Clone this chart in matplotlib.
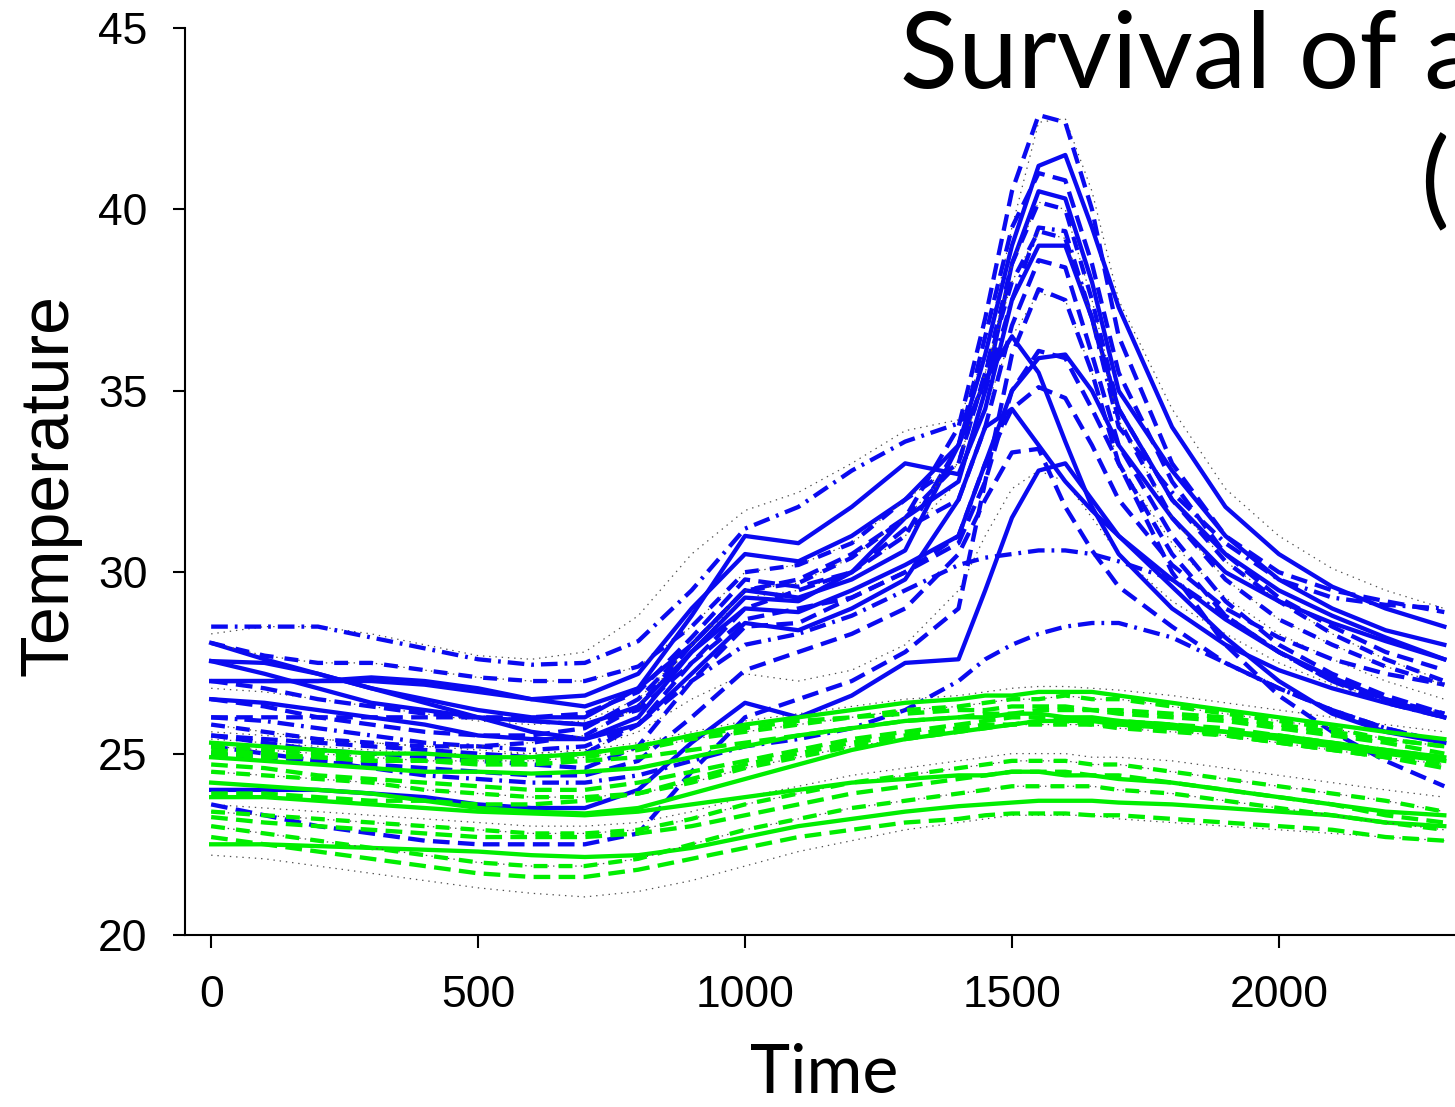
import matplotlib
matplotlib.use("Agg")
import matplotlib.pyplot as plt

plt.rcParams['lines.scale_dashes'] = False

# time grid shared by all curves
time = [0, 100, 200, 300, 400, 500, 600, 700, 800, 900, 1000, 1100, 1200, 1300, 1400,
        1450, 1500, 1550, 1600, 1650, 1700, 1800, 1900, 2000, 2100, 2200, 2310]

# blue curves
blue_01 = [26.5, 26.3, 26.0, 25.8, 25.6, 25.5, 25.5, 25.7, 26.5, 28.0, 29.5, 29.8, 30.5, 31.5, 34.0, 37.0, 40.5, 42.6, 42.4, 40.0, 36.5, 33.0, 31.0, 30.0, 29.5, 29.2, 28.9]
blue_02 = [27.0, 27.0, 27.0, 27.0, 26.9, 26.7, 26.5, 26.6, 27.2, 29.0, 30.5, 30.3, 31.0, 32.0, 33.5, 36.0, 39.0, 41.2, 41.5, 39.5, 37.3, 34.0, 31.8, 30.5, 29.6, 29.0, 28.5]
blue_03 = [25.5, 25.4, 25.3, 25.2, 25.1, 25.0, 24.9, 25.0, 25.8, 27.5, 29.0, 29.5, 30.0, 31.0, 33.5, 36.5, 39.5, 41.0, 40.8, 38.5, 35.5, 32.5, 30.5, 29.3, 28.5, 27.8, 27.3]
blue_04 = [28.05, 27.6, 27.2, 26.8, 26.4, 26.0, 25.6, 25.4, 26.0, 27.8, 29.3, 29.2, 30.0, 31.5, 32.5, 35.0, 38.5, 40.5, 40.3, 38.0, 35.0, 32.8, 31.0, 29.8, 29.0, 28.4, 28.0]
blue_05 = [28.05, 27.7, 27.5, 27.5, 27.3, 27.1, 27.0, 27.0, 27.4, 28.5, 30.0, 30.2, 30.8, 32.0, 33.0, 35.5, 38.5, 40.2, 40.0, 37.5, 34.5, 32.0, 30.3, 29.2, 28.3, 27.6, 27.0]
blue_06 = [28.5, 28.5, 28.5, 28.2, 27.9, 27.6, 27.45, 27.5, 28.1, 29.5, 31.2, 31.8, 32.8, 33.6, 34.1, 35.0, 37.5, 39.5, 39.4, 37.0, 34.0, 32.2, 30.8, 29.8, 29.3, 29.1, 29.0]
blue_07 = [27.55, 27.5, 27.2, 26.8, 26.5, 26.2, 26.0, 26.0, 26.8, 28.8, 31.0, 30.8, 31.8, 33.0, 32.7, 34.5, 37.5, 39.0, 39.0, 37.0, 34.5, 32.0, 30.5, 29.5, 28.8, 28.2, 27.6]
blue_08 = [26.0, 26.0, 26.0, 26.0, 26.0, 26.0, 26.0, 26.1, 26.7, 28.2, 29.8, 29.6, 30.0, 31.2, 32.0, 34.0, 36.8, 38.6, 38.4, 36.0, 33.5, 31.0, 29.2, 28.0, 27.2, 26.6, 26.1]
blue_09 = [27.0, 27.0, 27.0, 27.1, 27.0, 26.8, 26.5, 26.3, 26.8, 28.0, 29.5, 29.3, 29.8, 30.6, 33.5, 35.3, 36.5, 35.5, 33.6, 31.8, 30.5, 29.0, 28.0, 27.3, 26.8, 26.4, 26.0]
blue_10 = [25.5, 25.3, 25.1, 25.0, 24.9, 24.8, 24.7, 24.6, 25.2, 27.0, 28.5, 28.6, 29.3, 30.0, 30.8, 32.5, 35.0, 36.1, 35.9, 34.5, 33.0, 30.5, 28.8, 27.8, 27.0, 26.5, 26.1]
blue_11 = [27.55, 27.2, 26.8, 26.4, 26.2, 26.0, 25.9, 25.8, 26.3, 27.8, 29.0, 28.9, 29.5, 30.2, 31.0, 33.0, 35.0, 35.9, 36.0, 35.0, 33.5, 31.5, 30.0, 29.2, 28.6, 28.1, 27.6]
blue_12 = [27.0, 26.8, 26.5, 26.3, 26.1, 26.0, 25.9, 25.8, 26.2, 27.5, 28.7, 29.0, 29.3, 30.0, 31.0, 33.0, 34.5, 35.1, 34.8, 33.5, 32.0, 30.2, 29.0, 28.2, 27.6, 27.2, 26.9]
blue_13 = [26.5, 26.4, 26.2, 26.0, 25.8, 25.5, 25.4, 25.4, 25.8, 27.2, 28.6, 28.4, 29.0, 29.8, 32.0, 34.0, 34.5, 33.5, 32.5, 31.7, 31.0, 29.8, 28.7, 27.8, 27.1, 26.5, 26.0]
blue_14 = [24.0, 24.0, 24.0, 23.9, 23.8, 23.6, 23.5, 23.5, 24.0, 25.3, 26.4, 26.0, 26.6, 27.5, 27.6, 29.5, 31.5, 32.8, 33.0, 32.0, 31.0, 29.6, 28.2, 27.0, 26.1, 25.6, 25.3]
blue_15 = [23.6, 23.3, 23.0, 22.8, 22.6, 22.5, 22.5, 22.5, 22.8, 24.5, 26.0, 26.5, 27.0, 27.8, 29.0, 32.5, 36.0, 37.8, 37.5, 35.5, 33.0, 30.0, 28.0, 26.6, 25.6, 24.8, 24.1]
blue_16 = [26.0, 25.9, 25.7, 25.5, 25.3, 25.2, 25.1, 25.2, 25.8, 27.0, 28.0, 28.3, 28.8, 29.5, 30.2, 30.4, 30.5, 30.6, 30.6, 30.5, 30.3, 29.8, 28.8, 27.8, 27.0, 26.4, 26.0]
blue_17 = [25.2, 25.0, 24.8, 24.6, 24.4, 24.3, 24.2, 24.2, 24.4, 24.8, 25.2, 25.4, 25.7, 26.2, 27.0, 27.6, 28.0, 28.3, 28.5, 28.6, 28.6, 28.2, 27.5, 26.8, 26.2, 25.7, 25.3]
blue_18 = [25.0, 24.9, 24.8, 24.7, 24.6, 24.5, 24.4, 24.4, 24.8, 26.0, 27.3, 27.8, 28.3, 29.0, 30.5, 32.0, 33.3, 33.4, 31.8, 30.6, 29.6, 28.5, 27.5, 26.8, 26.2, 25.7, 25.3]
blue_19 = [25.8, 25.6, 25.4, 25.3, 25.2, 25.2, 25.3, 25.5, 26.3, 28.0, 29.5, 29.7, 30.4, 31.5, 33.0, 35.5, 38.0, 39.4, 39.2, 37.0, 34.2, 31.5, 29.8, 28.7, 28.0, 27.4, 26.9]

# green curves
green_01 = [25.3, 25.2, 25.1, 25.0, 25.0, 24.9, 24.9, 25.0, 25.2, 25.5, 25.8, 26.0, 26.2, 26.4, 26.5, 26.6, 26.6, 26.7, 26.7, 26.7, 26.6, 26.4, 26.2, 26.0, 25.8, 25.6, 25.4]
green_02 = [25.2, 25.1, 25.0, 24.9, 24.8, 24.8, 24.8, 24.9, 25.1, 25.4, 25.6, 25.8, 26.0, 26.2, 26.3, 26.4, 26.5, 26.5, 26.6, 26.5, 26.5, 26.3, 26.1, 25.9, 25.7, 25.4, 25.2]
green_03 = [25.0, 24.9, 24.9, 24.8, 24.8, 24.7, 24.7, 24.8, 24.9, 25.1, 25.3, 25.5, 25.7, 25.9, 26.0, 26.1, 26.1, 26.2, 26.2, 26.2, 26.1, 26.0, 25.9, 25.7, 25.5, 25.3, 25.0]
green_04 = [24.9, 24.8, 24.7, 24.6, 24.5, 24.5, 24.45, 24.5, 24.6, 24.9, 25.2, 25.5, 25.7, 25.9, 26.0, 26.0, 26.1, 26.1, 26.0, 26.0, 25.9, 25.8, 25.6, 25.4, 25.2, 25.0, 24.8]
green_05 = [24.7, 24.6, 24.4, 24.3, 24.2, 24.1, 24.0, 24.0, 24.2, 24.5, 24.8, 25.1, 25.4, 25.6, 25.8, 25.9, 26.0, 26.0, 26.0, 25.9, 25.9, 25.8, 25.7, 25.5, 25.3, 25.1, 24.9]
green_06 = [24.5, 24.4, 24.3, 24.2, 24.0, 23.9, 23.8, 23.8, 23.9, 24.2, 24.6, 24.9, 25.2, 25.4, 25.6, 25.7, 25.8, 25.8, 25.8, 25.8, 25.7, 25.6, 25.5, 25.3, 25.1, 24.9, 24.7]
green_07 = [24.2, 24.1, 24.0, 23.9, 23.7, 23.5, 23.4, 23.35, 23.5, 23.9, 24.3, 24.7, 25.1, 25.4, 25.6, 25.7, 25.8, 25.9, 25.9, 25.9, 25.8, 25.7, 25.6, 25.5, 25.3, 25.1, 24.9]
green_08 = [23.9, 23.9, 23.8, 23.7, 23.7, 23.6, 23.6, 23.7, 23.9, 24.3, 24.7, 25.0, 25.3, 25.5, 25.7, 25.8, 25.8, 25.9, 25.9, 25.8, 25.8, 25.7, 25.5, 25.3, 25.1, 24.9, 24.6]
green_09 = [23.4, 23.3, 23.2, 23.1, 23.0, 22.9, 22.8, 22.8, 22.9, 23.2, 23.6, 23.9, 24.2, 24.4, 24.6, 24.7, 24.8, 24.8, 24.8, 24.7, 24.7, 24.5, 24.3, 24.1, 23.9, 23.7, 23.4]
green_10 = [23.25, 23.1, 23.0, 22.9, 22.8, 22.7, 22.7, 22.7, 22.8, 23.0, 23.3, 23.6, 23.9, 24.1, 24.3, 24.4, 24.5, 24.5, 24.5, 24.4, 24.4, 24.2, 24.0, 23.8, 23.6, 23.3, 23.1]
green_11 = [22.5, 22.5, 22.45, 22.4, 22.35, 22.3, 22.2, 22.15, 22.2, 22.4, 22.7, 23.0, 23.2, 23.4, 23.55, 23.6, 23.65, 23.7, 23.7, 23.7, 23.65, 23.6, 23.5, 23.4, 23.3, 23.1, 23.0]
green_12 = [22.7, 22.5, 22.3, 22.1, 21.9, 21.7, 21.6, 21.6, 21.8, 22.1, 22.4, 22.7, 22.9, 23.1, 23.2, 23.3, 23.35, 23.35, 23.35, 23.3, 23.3, 23.2, 23.1, 23.0, 22.9, 22.7, 22.6]
green_13 = [23.0, 22.8, 22.6, 22.4, 22.2, 22.0, 21.9, 21.9, 22.1, 22.5, 22.9, 23.2, 23.5, 23.7, 23.9, 24.0, 24.1, 24.1, 24.1, 24.1, 24.0, 23.9, 23.7, 23.5, 23.3, 23.1, 22.9]
green_14 = [25.1, 25.0, 24.9, 24.8, 24.8, 24.8, 24.9, 25.0, 25.2, 25.5, 25.7, 25.9, 26.0, 26.1, 26.2, 26.2, 26.3, 26.3, 26.3, 26.2, 26.2, 26.1, 26.0, 25.8, 25.6, 25.4, 25.2]
green_15 = [23.8, 23.8, 23.7, 23.6, 23.5, 23.4, 23.35, 23.3, 23.4, 23.6, 23.8, 24.0, 24.2, 24.3, 24.4, 24.4, 24.5, 24.5, 24.4, 24.4, 24.3, 24.2, 24.0, 23.8, 23.6, 23.4, 23.3]

# thin dotted curves
dot_01 = [28.3, 28.5, 28.5, 28.3, 28.0, 27.7, 27.6, 27.8, 28.8, 30.5, 31.7, 32.2, 33.0, 33.9, 34.2, 36.0, 39.5, 42.4, 42.5, 40.5, 37.5, 34.5, 32.3, 31.0, 30.1, 29.5, 29.0]
dot_02 = [26.8, 26.7, 26.5, 26.3, 26.1, 25.9, 25.8, 25.9, 26.5, 28.0, 29.3, 29.5, 30.0, 31.0, 32.5, 34.5, 36.5, 37.7, 37.5, 35.5, 33.0, 30.8, 29.3, 28.3, 27.6, 27.0, 26.5]
dot_03 = [25.6, 25.5, 25.4, 25.3, 25.2, 25.1, 25.0, 25.1, 25.6, 26.5, 27.2, 27.0, 27.3, 28.0, 29.5, 31.0, 32.3, 32.8, 32.5, 31.5, 30.5, 29.2, 28.3, 27.5, 26.9, 26.5, 26.1]
dot_04 = [25.4, 25.3, 25.2, 25.1, 25.0, 25.0, 25.0, 25.1, 25.3, 25.6, 25.9, 26.1, 26.3, 26.5, 26.6, 26.7, 26.8, 26.85, 26.85, 26.8, 26.75, 26.6, 26.4, 26.2, 26.0, 25.8, 25.6]
dot_05 = [22.2, 22.1, 21.9, 21.7, 21.5, 21.3, 21.15, 21.05, 21.2, 21.5, 21.9, 22.3, 22.6, 22.9, 23.1, 23.2, 23.3, 23.3, 23.3, 23.3, 23.2, 23.1, 23.0, 22.9, 22.8, 22.7, 22.6]
dot_06 = [23.6, 23.5, 23.4, 23.3, 23.2, 23.1, 23.0, 23.0, 23.1, 23.4, 23.8, 24.1, 24.4, 24.6, 24.8, 24.9, 25.0, 25.0, 25.0, 24.9, 24.9, 24.8, 24.6, 24.4, 24.2, 24.0, 23.8]

blue_curves = [blue_01, blue_02, blue_03, blue_04, blue_05, blue_06, blue_07, blue_08, blue_09, blue_10,
               blue_11, blue_12, blue_13, blue_14, blue_15, blue_16, blue_17, blue_18, blue_19]
blue_styles = ['dash', 'solid', 'dash', 'solid', 'dashdots', 'dashdot', 'solid', 'dash', 'solid', 'dash',
               'solid', 'dash', 'solid', 'solid', 'dash', 'dashdot', 'dashdot', 'dash', 'dashdots']
green_curves = [green_01, green_02, green_03, green_04, green_05, green_06, green_07, green_08,
                green_09, green_10, green_11, green_12, green_13, green_14, green_15]
green_styles = ['solid', 'dashdots', 'dash', 'solid', 'dash', 'dashdots', 'solid', 'dash',
                'dashdots', 'dash', 'solid', 'dash', 'dashdots', 'dash', 'solid']
dotted_curves = [dot_01, dot_02, dot_03, dot_04, dot_05, dot_06]

BLUE = '#0a0af0'
GREEN = '#00ee00'
DOTS = '#505050'
LS = {'solid': '-', 'dash': (0, (12, 6)), 'dashdot': (0, (12, 5, 2, 5)), 'dashdots': (0, (10, 8))}

fig = plt.figure(figsize=(14.55, 11.07), dpi=100)
ax = fig.add_axes([185 / 1455, 1 - 935 / 1107, 1270 / 1455, 907 / 1107])


def draw(curves, styles, color):
    for y, s in zip(curves, styles):
        if s == 'dashdots':
            ax.plot(time, y, color=DOTS, lw=0.9, linestyle=(0, (1, 3)))
        ax.plot(time, y, color=color, lw=3.1, linestyle=LS[s],
                solid_joinstyle='round', dash_joinstyle='round')


for y in dotted_curves:
    ax.plot(time, y, color=DOTS, lw=0.9, linestyle=(0, (1, 3.5)))
draw(blue_curves, blue_styles, BLUE)
draw(green_curves, green_styles, GREEN)

ax.set_xlim(-49, 2330)
ax.set_ylim(20, 45)
ax.set_xticks([0, 500, 1000, 1500, 2000])
ax.set_yticks([20, 25, 30, 35, 40, 45])
for side in ['top', 'right']:
    ax.spines[side].set_visible(False)
for side in ['left', 'bottom']:
    ax.spines[side].set_linewidth(1.5)
ax.tick_params(axis='both', length=9, width=1.5, labelsize=32)
ax.tick_params(axis='y', pad=18)
ax.tick_params(axis='x', pad=20)
for lab in ax.get_xticklabels() + ax.get_yticklabels():
    lab.set_family('Liberation Sans')

fig.text(0.034, 0.562, 'Temperature', rotation=90, ha='center', va='center',
         fontsize=49, family='Liberation Sans')
fig.text(750 / 1455, 0.002, 'Time', ha='left', va='bottom', fontsize=49, family='Lato')
fig.text(900 / 1455, 1 - 88 / 1107, 'Survival of a', ha='left', va='baseline', fontsize=77, family='Lato')
fig.text(1420 / 1455, 1 - 215 / 1107, '(', ha='left', va='baseline', fontsize=77, family='Lato')

fig.savefig('out.png', dpi=100)
